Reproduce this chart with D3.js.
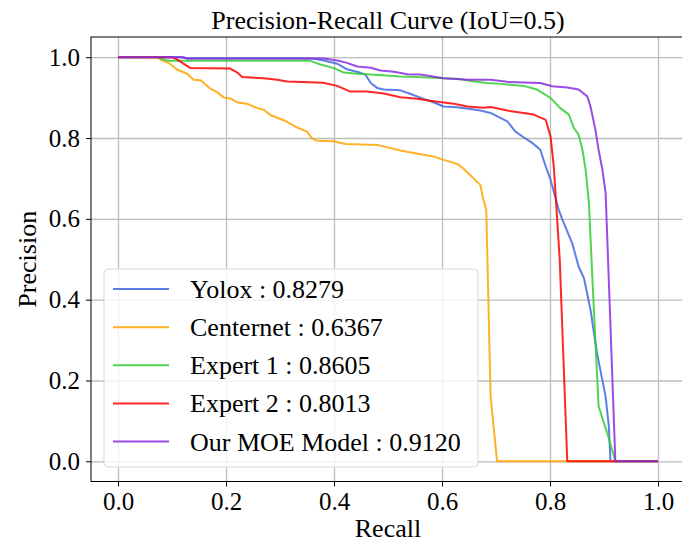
<!DOCTYPE html>
<html>
<head>
<meta charset="utf-8">
<script src="https://cdn.jsdelivr.net/npm/d3@7"></script>
<style>
  body { margin: 0; background: #fff; }
  svg { display: block; font-family: "Liberation Serif", "Times New Roman", serif; }
</style>
</head>
<body>
<div class="chart"></div>
<script>
// model names and AP scores (legend)
const models = ["Yolox", "Centernet", "Expert 1", "Expert 2", "Our MOE Model"];
const scores = ["0.8279", "0.6367", "0.8605", "0.8013", "0.9120"];
const colors = ["royalblue", "orange", "limegreen", "red", "blueviolet"];
const ticks = [0, 0.2, 0.4, 0.6, 0.8, 1.0];

// recall / precision
const yoloxRecall = [0, 0.12, 0.13, 0.36, 0.381, 0.406, 0.424, 0.446, 0.458, 0.468, 0.48, 0.492, 0.523, 0.542, 0.566, 0.585, 0.603, 0.628, 0.653, 0.671, 0.69, 0.708, 0.721, 0.736, 0.751, 0.767, 0.782, 0.792, 0.801, 0.816, 0.823, 0.841, 0.853, 0.863, 0.875, 0.887, 0.903, 0.909, 0.912, 1.0];
const yoloxPrecision = [1, 1, 0.997, 0.997, 0.992, 0.984, 0.970, 0.963, 0.957, 0.936, 0.924, 0.92, 0.918, 0.909, 0.897, 0.888, 0.878, 0.876, 0.872, 0.868, 0.862, 0.85, 0.841, 0.816, 0.802, 0.788, 0.771, 0.73, 0.697, 0.623, 0.598, 0.54, 0.482, 0.453, 0.375, 0.268, 0.16, 0.086, 0, 0];

const centerRecall = [0, 0.073, 0.079, 0.095, 0.11, 0.128, 0.14, 0.153, 0.171, 0.184, 0.196, 0.208, 0.221, 0.239, 0.258, 0.27, 0.282, 0.307, 0.332, 0.35, 0.36, 0.369, 0.40, 0.421, 0.48, 0.523, 0.56, 0.585, 0.603, 0.628, 0.64, 0.671, 0.676, 0.682, 0.69, 0.702, 1.0];
const centerPrecision = [1, 1, 0.994, 0.985, 0.969, 0.959, 0.944, 0.943, 0.922, 0.913, 0.90, 0.898, 0.888, 0.885, 0.874, 0.87, 0.857, 0.844, 0.826, 0.816, 0.798, 0.793, 0.792, 0.785, 0.783, 0.769, 0.76, 0.754, 0.746, 0.736, 0.724, 0.684, 0.65, 0.622, 0.16, 0, 0];

const expert1Recall = [0, 0.075, 0.084, 0.095, 0.356, 0.375, 0.40, 0.418, 0.443, 0.468, 0.523, 0.554, 0.603, 0.634, 0.659, 0.684, 0.708, 0.751, 0.776, 0.801, 0.819, 0.835, 0.844, 0.853, 0.86, 0.866, 0.872, 0.88, 0.89, 0.906, 0.921, 1.0];
const expert1Precision = [1, 1, 0.994, 0.991, 0.991, 0.982, 0.973, 0.962, 0.959, 0.957, 0.952, 0.951, 0.948, 0.946, 0.94, 0.936, 0.934, 0.929, 0.92, 0.899, 0.874, 0.858, 0.825, 0.808, 0.771, 0.722, 0.64, 0.41, 0.136, 0.07, 0, 0];

const expert2Recall = [0, 0.10, 0.11, 0.119, 0.134, 0.208, 0.221, 0.23, 0.27, 0.295, 0.313, 0.356, 0.38, 0.406, 0.43, 0.461, 0.492, 0.523, 0.554, 0.585, 0.603, 0.622, 0.647, 0.677, 0.69, 0.708, 0.721, 0.751, 0.77, 0.792, 0.801, 0.807, 0.818, 0.832, 1.0];
const expert2Precision = [1, 1, 0.994, 0.986, 0.973, 0.972, 0.962, 0.951, 0.948, 0.944, 0.94, 0.938, 0.937, 0.929, 0.915, 0.915, 0.91, 0.901, 0.897, 0.891, 0.888, 0.885, 0.878, 0.875, 0.877, 0.872, 0.868, 0.862, 0.858, 0.845, 0.804, 0.73, 0.5, 0, 0];

const moeRecall = [0, 0.119, 0.128, 0.381, 0.406, 0.424, 0.443, 0.468, 0.486, 0.511, 0.536, 0.56, 0.603, 0.647, 0.69, 0.721, 0.782, 0.804, 0.832, 0.853, 0.869, 0.875, 0.884, 0.89, 0.897, 0.903, 0.912, 0.921, 1.0];
const moePrecision = [1, 1, 0.997, 0.997, 0.992, 0.986, 0.977, 0.974, 0.967, 0.964, 0.958, 0.957, 0.948, 0.944, 0.944, 0.939, 0.936, 0.928, 0.925, 0.92, 0.903, 0.878, 0.821, 0.771, 0.722, 0.664, 0.334, 0, 0];

const recalls = [yoloxRecall, centerRecall, expert1Recall, expert2Recall, moeRecall];
const precisions = [yoloxPrecision, centerPrecision, expert1Precision, expert2Precision, moePrecision];

const w = 682;
const h = 544;
const axL = 91, axR = 685, axT = 37, axB = 481.5;

const svg = d3.select(".chart")
  .append("svg")
  .attr("width", w)
  .attr("height", h);

svg.append("rect").attr("width", w).attr("height", h).attr("fill", "#fff");

const xScale = d3.scaleLinear().domain([-0.05, 1.05]).range([axL, axR]);
const yScale = d3.scaleLinear().domain([-0.05, 1.05]).range([axB, axT]);

// grid
svg.append("g")
  .attr("transform", `translate(0,${axB})`)
  .call(d3.axisBottom(xScale).tickValues(ticks).tickSize(-(axB - axT)).tickFormat(""))
  .call(g => g.select(".domain").remove())
  .call(g => g.selectAll("line").attr("stroke", "#bdbdbd").attr("stroke-width", 1.3));

svg.append("g")
  .attr("transform", `translate(${axL},0)`)
  .call(d3.axisLeft(yScale).tickValues(ticks).tickSize(-(axR - axL)).tickFormat(""))
  .call(g => g.select(".domain").remove())
  .call(g => g.selectAll("line").attr("stroke", "#bdbdbd").attr("stroke-width", 1.3));

// curves
const line = d3.line()
  .x(d => xScale(d[0]))
  .y(d => yScale(d[1]));

models.forEach((m, i) => {
  const pts = recalls[i].map((r, j) => [r, precisions[i][j]]);
  svg.append("path")
    .datum(pts)
    .attr("fill", "none")
    .attr("stroke", colors[i])
    .attr("stroke-opacity", 0.85)
    .attr("stroke-width", 2)
    .attr("stroke-linejoin", "round")
    .attr("d", line);
});

// spines
svg.append("rect")
  .attr("x", axL).attr("y", axT)
  .attr("width", axR - axL).attr("height", axB - axT)
  .attr("fill", "none").attr("stroke", "#000").attr("stroke-width", 1);

// axes
const fmt = d3.format(".1f");
svg.append("g")
  .attr("transform", `translate(0,${axB})`)
  .call(d3.axisBottom(xScale).tickValues(ticks).tickSize(5).tickPadding(6).tickFormat(fmt))
  .call(g => g.select(".domain").remove())
  .call(g => g.selectAll("text").attr("font-size", 25).attr("font-family", "Liberation Serif").attr("fill", "#000"));

svg.append("g")
  .attr("transform", `translate(${axL},0)`)
  .call(d3.axisLeft(yScale).tickValues(ticks).tickSize(5).tickPadding(6).tickFormat(fmt))
  .call(g => g.select(".domain").remove())
  .call(g => g.selectAll("text").attr("font-size", 25).attr("font-family", "Liberation Serif").attr("fill", "#000"));

// titles
svg.append("text")
  .attr("x", (axL + axR) / 2).attr("y", 29)
  .attr("text-anchor", "middle").attr("font-size", 26)
  .text("Precision-Recall Curve (IoU=0.5)");

svg.append("text")
  .attr("x", (axL + axR) / 2).attr("y", 537)
  .attr("text-anchor", "middle").attr("font-size", 26)
  .text("Recall");

svg.append("text")
  .attr("transform", `translate(36,${(axT + axB) / 2}) rotate(-90)`)
  .attr("text-anchor", "middle").attr("font-size", 26)
  .text("Precision");

// legend
const legend = svg.append("g");
legend.append("rect")
  .attr("x", 104).attr("y", 269)
  .attr("width", 374).attr("height", 198)
  .attr("rx", 4)
  .attr("fill", "#fff").attr("fill-opacity", 0.8)
  .attr("stroke", "#d6d6d6").attr("stroke-width", 1);

const rowY = d3.scaleLinear().domain([0, 4]).range([289, 441.5]);
models.forEach((m, i) => {
  legend.append("line")
    .attr("x1", 113).attr("x2", 169)
    .attr("y1", rowY(i)).attr("y2", rowY(i))
    .attr("stroke", colors[i]).attr("stroke-opacity", 0.85).attr("stroke-width", 2);
  legend.append("text")
    .attr("x", 190).attr("y", rowY(i))
    .attr("dy", "0.35em")
    .attr("font-size", 26)
    .text(`${m} : ${scores[i]}`);
});
</script>
</body>
</html>
